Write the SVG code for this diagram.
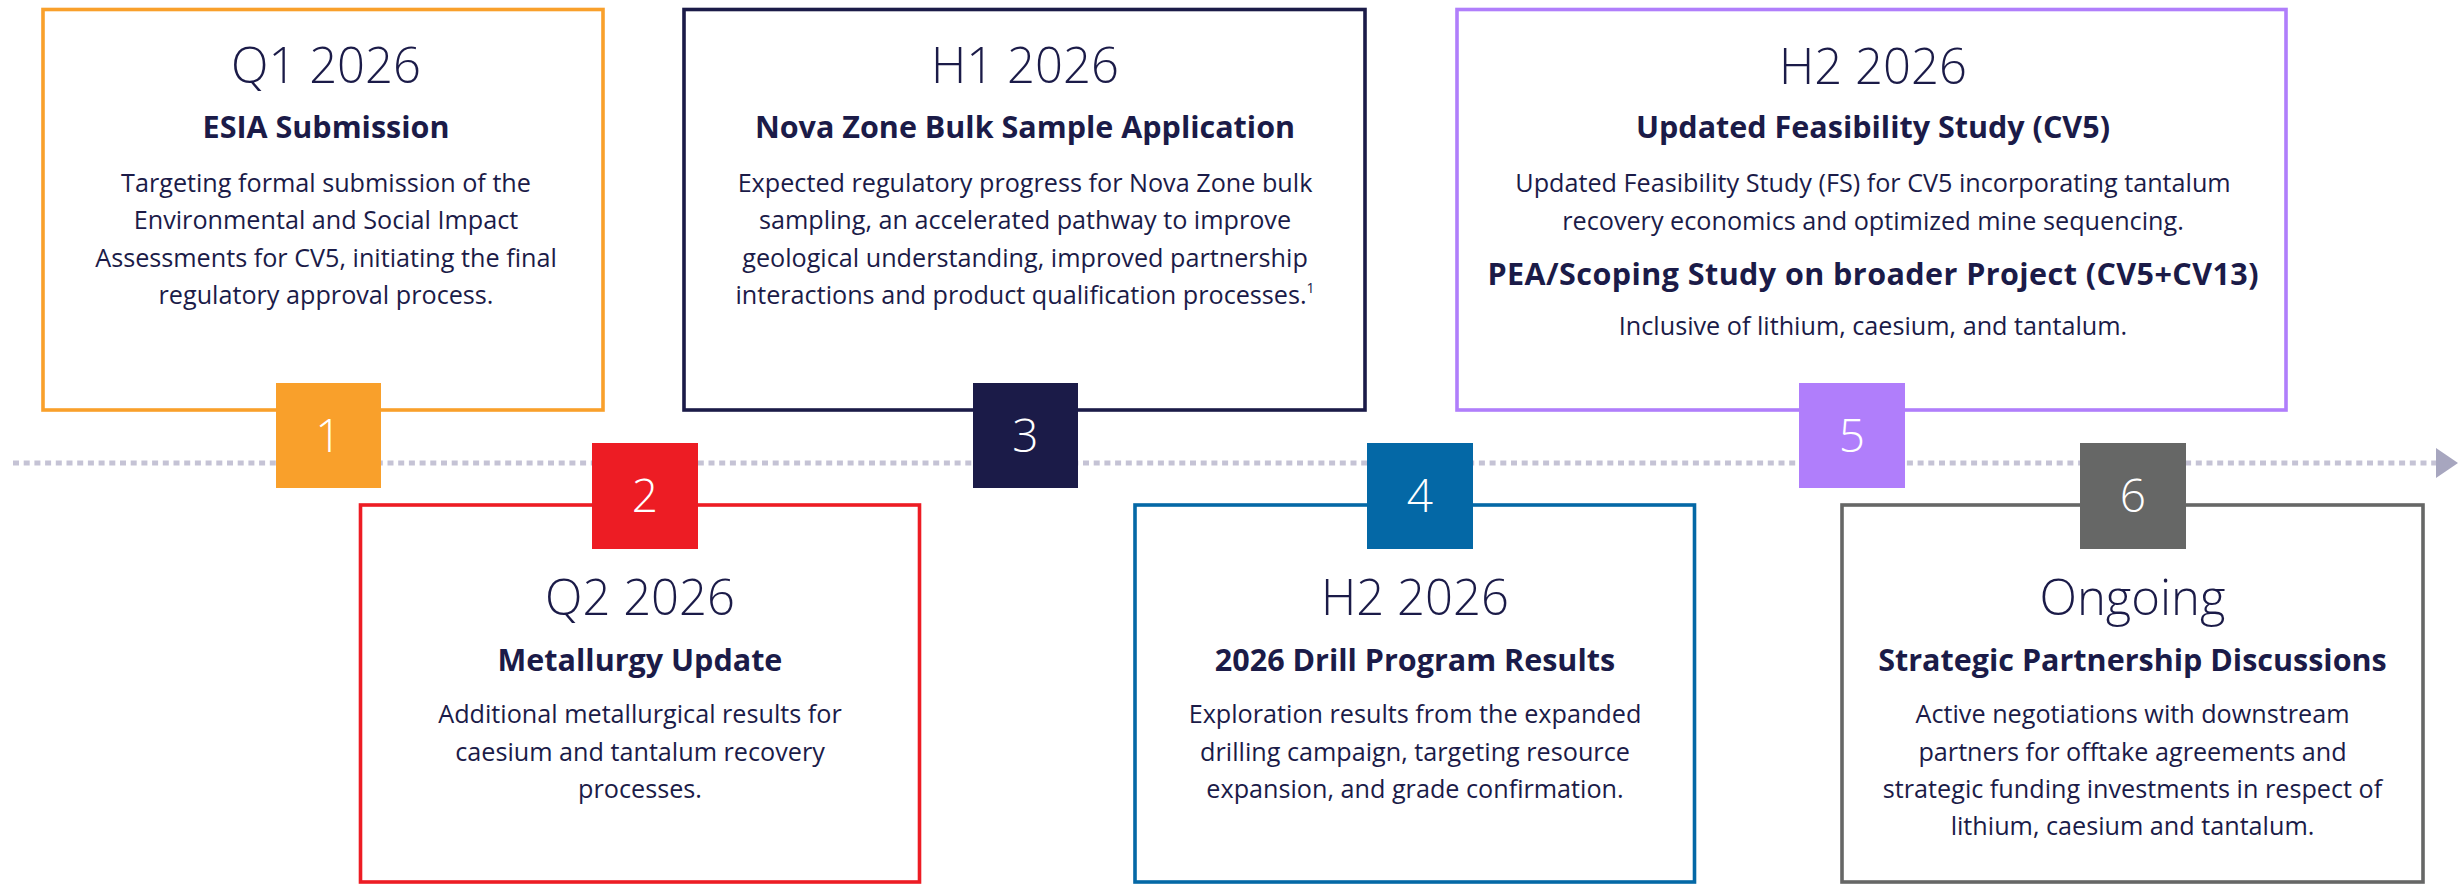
<svg xmlns="http://www.w3.org/2000/svg" width="2458" height="884" viewBox="0 0 2458 884">
  <style>
    .box { fill: #ffffff; stroke-width: 3.6; }
    .title { font-family: "Open Sans", "Noto Sans", "Liberation Sans", sans-serif; font-weight: 300; font-size: 49px; fill: #1B1B48; text-anchor: middle; }
    .sub { font-family: "Open Sans", "Noto Sans", "Liberation Sans", sans-serif; font-weight: 700; font-size: 30.5px; fill: #1B1B48; text-anchor: middle; }
    .body { font-family: "Open Sans", "Noto Sans", "Liberation Sans", sans-serif; font-weight: 400; font-size: 25.2px; fill: #1B1B48; text-anchor: middle; }
    .num { font-family: "Open Sans", "Noto Sans", "Liberation Sans", sans-serif; font-weight: 300; font-size: 46px; fill: #ffffff; text-anchor: middle; }
    .sup { font-size: 14px; }
  </style>
  <defs>
    <marker id="arrow" markerUnits="userSpaceOnUse" markerWidth="22" markerHeight="30" refX="0" refY="15" orient="auto">
      <polygon points="0,0 22,15 0,30" fill="#A7A6BF"/>
    </marker>
  </defs>
  <rect width="2458" height="884" fill="#ffffff"/>

  <g id="connectors">
    <line x1="13" y1="463" x2="2436" y2="463" stroke="#C5C3D5" stroke-width="5" stroke-dasharray="6 4.7" marker-end="url(#arrow)"/>
  </g>

  <g id="node1">
    <rect class="box" x="43" y="9.5" width="560" height="400.5" stroke="#F9A02B"/>
    <rect x="276" y="383" width="105" height="105" fill="#F9A02B"/>
    <text class="num" x="328.5" y="452">1</text>
    <text class="title" x="326" y="83">Q1 2026</text>
    <text class="sub" x="326" y="138">ESIA Submission</text>
    <text class="body" x="326" y="192">Targeting formal submission of the</text>
    <text class="body" x="326" y="229">Environmental and Social Impact</text>
    <text class="body" x="326" y="266.5">Assessments for CV5,  initiating the final</text>
    <text class="body" x="326" y="303.5">regulatory approval process.</text>
  </g>

  <g id="node2">
    <rect class="box" x="360.5" y="505" width="559" height="377" stroke="#ED1C24"/>
    <rect x="592" y="443" width="106" height="106" fill="#ED1C24"/>
    <text class="num" x="645" y="512">2</text>
    <text class="title" x="640" y="615">Q2 2026</text>
    <text class="sub" x="640" y="671">Metallurgy Update</text>
    <text class="body" x="640" y="723">Additional metallurgical results for</text>
    <text class="body" x="640" y="760.5">caesium and tantalum recovery</text>
    <text class="body" x="640" y="798">processes.</text>
  </g>

  <g id="node3">
    <rect class="box" x="684" y="9.5" width="681" height="400.5" stroke="#1B1B48"/>
    <rect x="973" y="383" width="105" height="105" fill="#1B1B48"/>
    <text class="num" x="1025.5" y="452">3</text>
    <text class="title" x="1025" y="83">H1 2026</text>
    <text class="sub" x="1025" y="138">Nova Zone Bulk Sample Application</text>
    <text class="body" x="1025" y="192">Expected regulatory progress for Nova Zone bulk</text>
    <text class="body" x="1025" y="229">sampling, an accelerated pathway to improve</text>
    <text class="body" x="1025" y="266.5">geological understanding, improved partnership</text>
    <text class="body" x="1025" y="303.5">interactions and product qualification processes.<tspan class="sup" dy="-11">1</tspan></text>
  </g>

  <g id="node4">
    <rect class="box" x="1135" y="505" width="559.5" height="377" stroke="#0468A6"/>
    <rect x="1367" y="443" width="106" height="106" fill="#0468A6"/>
    <text class="num" x="1420" y="512">4</text>
    <text class="title" x="1415" y="615">H2 2026</text>
    <text class="sub" x="1415" y="671">2026 Drill Program Results</text>
    <text class="body" x="1415" y="723">Exploration results from the expanded</text>
    <text class="body" x="1415" y="760.5">drilling campaign, targeting resource</text>
    <text class="body" x="1415" y="798">expansion, and grade confirmation.</text>
  </g>

  <g id="node5">
    <rect class="box" x="1457" y="9.5" width="829" height="400.5" stroke="#B07EFB"/>
    <rect x="1799" y="383" width="106" height="105" fill="#B07EFB"/>
    <text class="num" x="1852" y="452">5</text>
    <text class="title" x="1873" y="84">H2 2026</text>
    <text class="sub" x="1873" y="138">Updated Feasibility Study (CV5)</text>
    <text class="body" x="1873" y="192">Updated Feasibility Study (FS) for CV5 incorporating tantalum</text>
    <text class="body" x="1873" y="230">recovery economics and optimized mine sequencing.</text>
    <text class="sub" x="1873" y="285" textLength="771" lengthAdjust="spacing">PEA/Scoping Study on broader Project (CV5+CV13)</text>
    <text class="body" x="1873" y="335">Inclusive of lithium, caesium, and tantalum.</text>
  </g>

  <g id="node6">
    <rect class="box" x="1842" y="505" width="581" height="377" stroke="#666766"/>
    <rect x="2080" y="443" width="106" height="106" fill="#666766"/>
    <text class="num" x="2133" y="512">6</text>
    <text class="title" x="2132.5" y="615">Ongoing</text>
    <text class="sub" x="2132.5" y="671">Strategic Partnership Discussions</text>
    <text class="body" x="2132.5" y="723">Active negotiations with downstream</text>
    <text class="body" x="2132.5" y="760.5">partners for offtake agreements and</text>
    <text class="body" x="2132.5" y="798">strategic funding investments in respect of</text>
    <text class="body" x="2132.5" y="835">lithium, caesium and tantalum.</text>
  </g>
</svg>
